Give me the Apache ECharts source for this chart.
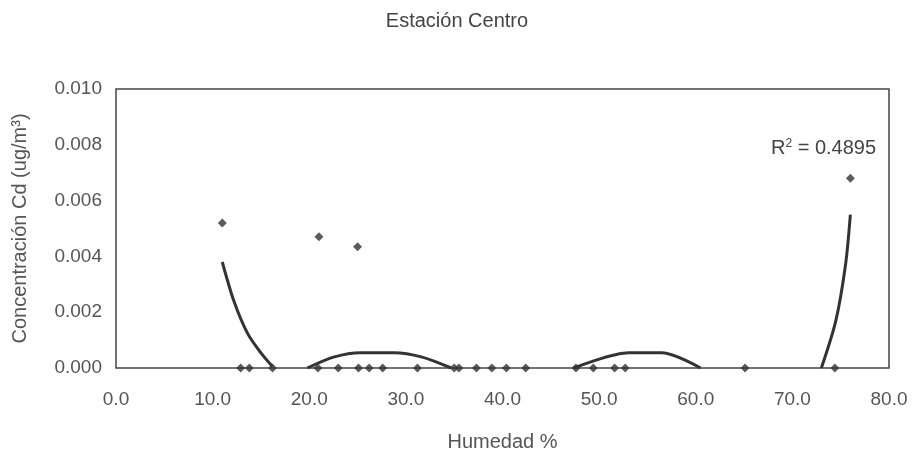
<!DOCTYPE html>
<html>
<head>
<meta charset="utf-8">
<script src="https://cdn.jsdelivr.net/npm/echarts@6/dist/echarts.min.js"></script>
<style>
  html, body { margin: 0; padding: 0; background: #fff; }
  #chart { width: 917px; height: 458px; }
</style>
</head>
<body>
<div id="chart"></div>
<script>
// Humedad (%) and Cd concentration (ug/m3) measured at Estación Centro
const humedad = [11.0, 12.9, 13.8, 16.2, 20.9, 21.0, 23.0, 25.0, 25.1, 26.2, 27.6, 31.2, 35.0, 35.5, 37.3, 38.9, 40.4, 42.4, 47.6, 49.4, 51.6, 52.7, 65.1, 74.4, 76.0];
const cadmio  = [0.0052, 0, 0, 0, 0, 0.0047, 0, 0.00435, 0, 0, 0, 0, 0, 0, 0, 0, 0, 0, 0, 0, 0, 0, 0, 0, 0.0068];

// Polynomial trend line, only the parts above zero (null = gap)
const trendX = [11.0, 12.2, 13.6, 15.0, 16.2, null, 19.8, 22.6, 25.3, 28.8, 31.6, 34.7, null, 47.4, 53.1, 56.5, 60.5, null, 73.0, 74.5, 75.5, 76.0];
const trendY = [0.0038, 0.0024, 0.00125, 0.00054, 0.00005, null, 0.0, 0.0004, 0.00055, 0.00055, 0.0004, 0.0, null, 0.0, 0.00055, 0.00055, 0.0, null, 0.0, 0.0017, 0.0037, 0.0055];

const r2Text = '0.4895';
const xTicks = { min: 0, max: 80, interval: 10 };
const yTicks = { min: 0, max: 0.010, interval: 0.002 };

const points = humedad.map((x, i) => [x, cadmio[i]]);
const trend = trendX.map((x, i) => (x === null ? [null, null] : [x, trendY[i]]));

const chart = echarts.init(document.getElementById('chart'), null, { renderer: 'canvas' });
const font = 'Liberation Sans, Arial, sans-serif';

chart.setOption({
  backgroundColor: '#ffffff',
  animation: false,
  title: {
    text: 'Estación Centro',
    left: 452,
    top: 6,
    textAlign: 'center',
    textStyle: { fontFamily: font, fontSize: 20, fontWeight: 'normal', color: '#444' }
  },
  grid: {
    left: 116, right: 28, top: 89, bottom: 90,
    show: true, borderColor: '#444', borderWidth: 1.5, backgroundColor: '#fff'
  },
  xAxis: {
    type: 'value',
    min: xTicks.min, max: xTicks.max, interval: xTicks.interval,
    name: 'Humedad %',
    nameLocation: 'middle',
    nameGap: 64,
    nameTextStyle: { fontFamily: font, fontSize: 20, color: '#555' },
    axisLine: { show: false },
    axisTick: { show: false },
    splitLine: { show: false },
    axisLabel: {
      margin: 22,
      fontFamily: font, fontSize: 19, color: '#555',
      formatter: v => v.toFixed(1)
    }
  },
  yAxis: {
    type: 'value',
    min: yTicks.min, max: yTicks.max, interval: yTicks.interval,
    name: 'Concentración Cd (ug/m³)',
    nameLocation: 'middle',
    nameGap: 86,
    nameTextStyle: { fontFamily: font, fontSize: 20, color: '#555' },
    axisLine: { show: false },
    axisTick: { show: false },
    splitLine: { show: false },
    axisLabel: {
      margin: 14,
      fontFamily: font, fontSize: 19, color: '#555',
      formatter: v => v.toFixed(3)
    }
  },
  series: [
    {
      type: 'line',
      data: trend,
      showSymbol: false,
      connectNulls: false,
      smooth: 0.3,
      lineStyle: { color: '#333', width: 3 },
      z: 2
    },
    {
      type: 'scatter',
      data: points,
      symbol: 'diamond',
      symbolSize: 9,
      itemStyle: { color: '#333' },
      clip: false,
      z: 3
    }
  ],
  graphic: [
    {
      type: 'text',
      left: 771,
      top: 138,
      style: {
        text: '{r|R}{s|2}{r| = ' + r2Text + '}',
        rich: {
          r: { fontFamily: font, fontSize: 20, fill: '#444' },
          s: { fontFamily: font, fontSize: 12, fill: '#444', verticalAlign: 'top', padding: [0, 0, 9, 0] }
        }
      }
    }
  ]
});
</script>
</body>
</html>
